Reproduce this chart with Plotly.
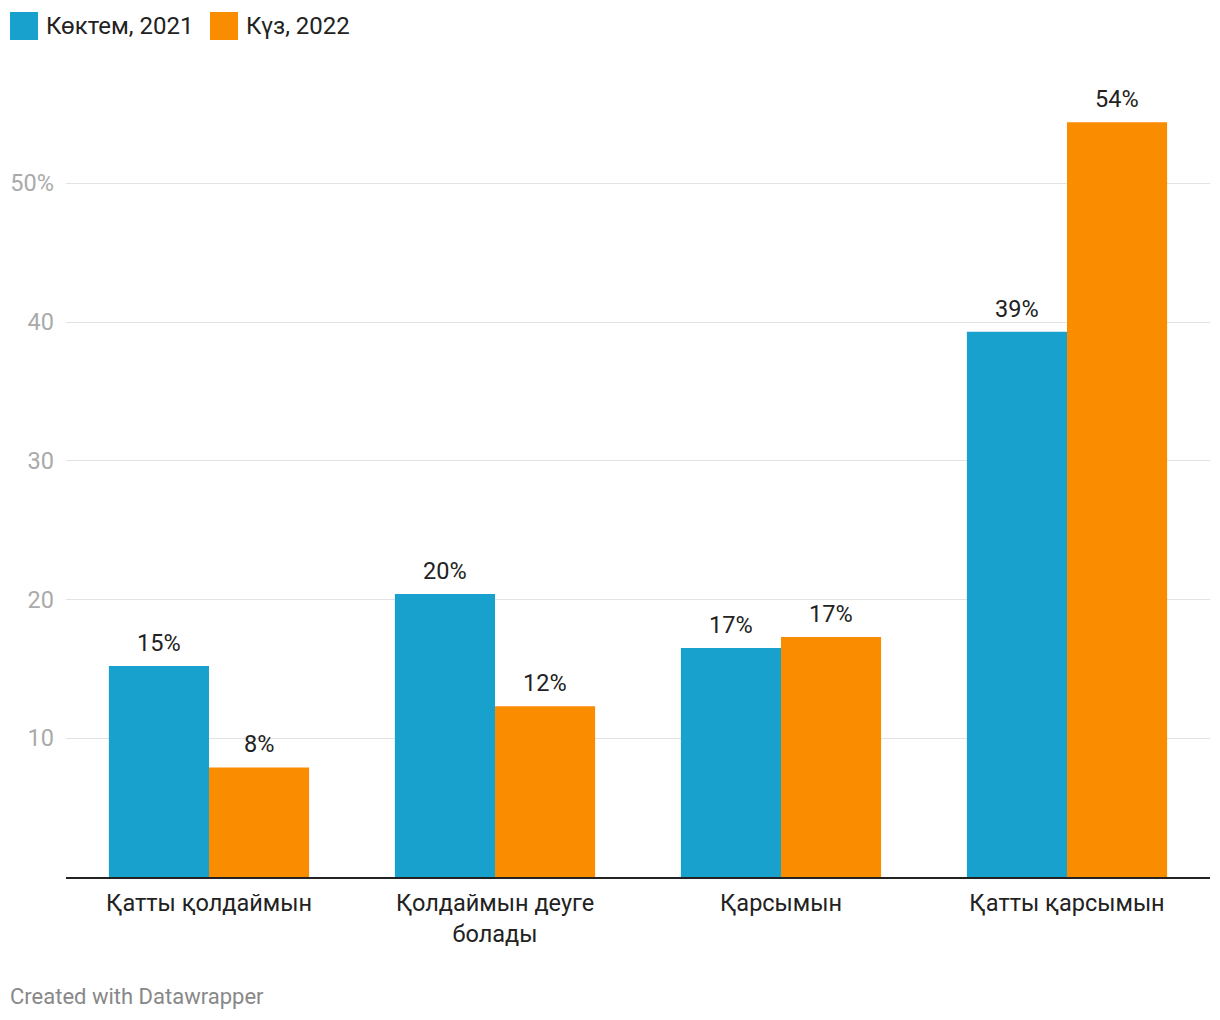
import plotly.graph_objects as go

categories = ["Қатты қолдаймын", "Қолдаймын деуге<br>болады", "Қарсымын", "Қатты қарсымын"]
series_names = ["Көктем, 2021", "Күз, 2022"]
spring_2021 = [15.2, 20.4, 16.5, 39.3]
autumn_2022 = [7.9, 12.3, 17.3, 54.4]
spring_labels = ["15%", "20%", "17%", "39%"]
autumn_labels = ["8%", "12%", "17%", "54%"]
y_tickvals = [10, 20, 30, 40, 50]
y_ticktext = ["10", "20", "30", "40", "50%"]

BLUE = "#18a1cd"
ORANGE = "#fa8c00"
FONT = "Roboto"

# page has an 8px body margin; figure coordinates are offset accordingly
OFF = 8
W, H = 1212, 1012
L, T, PW, PH = 66 - OFF, 100 - OFF, 1144, 777


def px(x):
    return (x - OFF - L) / PW


def py(y):
    return (T + PH - (y - OFF)) / PH


fig = go.Figure()
fig.add_trace(go.Bar(x=categories, y=spring_2021, name=series_names[0],
                     marker=dict(color=BLUE, line=dict(width=0))))
fig.add_trace(go.Bar(x=categories, y=autumn_2022, name=series_names[1],
                     marker=dict(color=ORANGE, line=dict(width=0))))

annotations = []
for vals, labs, shift in ((spring_2021, spring_labels, -50), (autumn_2022, autumn_labels, 50)):
    for cat, v, t in zip(categories, vals, labs):
        annotations.append(dict(x=cat, y=v, text=t, xshift=shift, yshift=7, showarrow=False,
                                yanchor="bottom", xanchor="center",
                                font=dict(family=FONT, size=23.5, color="#222222")))

# legend (manual)
legend_items = [(series_names[0], BLUE, 10), (series_names[1], ORANGE, 210)]
shapes = []
for name, col, x0 in legend_items:
    shapes.append(dict(type="rect", xref="paper", yref="paper",
                       x0=px(x0), x1=px(x0 + 28), y0=py(40), y1=py(12),
                       fillcolor=col, line=dict(width=0)))
    annotations.append(dict(xref="paper", yref="paper", x=px(x0 + 34), y=py(26),
                            text=name, showarrow=False, xanchor="left", yanchor="middle",
                            font=dict(family=FONT, size=24, color="#222222")))

annotations.append(dict(xref="paper", yref="paper", x=px(8), y=py(997),
                        text="Created with Datawrapper", showarrow=False,
                        xanchor="left", yanchor="middle",
                        font=dict(family=FONT, size=22, color="#888888")))

fig.update_layout(
    width=W, height=H,
    margin=dict(l=L, r=W - L - PW, t=T, b=H - T - PH, pad=0, autoexpand=False),
    paper_bgcolor="white", plot_bgcolor="white",
    barmode="group", bargap=0.30, bargroupgap=0,
    showlegend=False,
    font=dict(family=FONT, size=23.5, color="#222222"),
    xaxis=dict(showline=True, linecolor="#222222", linewidth=2, automargin=False,
               ticks="", tickfont=dict(family=FONT, size=23.5, color="#222222"),
               ticklabelstandoff=4),
    yaxis=dict(range=[0, 56], tickvals=y_tickvals, ticktext=y_ticktext, automargin=False,
               showgrid=True, gridcolor="#e3e3e3", gridwidth=1,
               zeroline=False, ticks="", ticklabelstandoff=11,
               tickfont=dict(family=FONT, size=23.5, color="#aaaaaa")),
    annotations=annotations,
    shapes=shapes,
)

fig.write_html("out.html")
